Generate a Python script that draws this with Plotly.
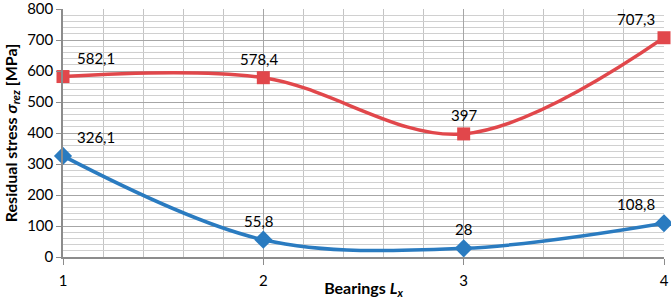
import plotly.graph_objects as go

bearings = [1, 2, 3, 4]
red_values = [582.1, 578.4, 397, 707.3]
blue_values = [326.1, 55.8, 28, 108.8]
red_labels = ["582,1", "578,4", "397", "707,3"]
blue_labels = ["326,1", "55,8", "28", "108,8"]
y_ticks = [0, 100, 200, 300, 400, 500, 600, 700, 800]

RED = "#E1474B"
BLUE = "#2A7BC0"
FONT = "Lato, Open Sans, sans-serif"

fig = go.Figure()
fig.add_trace(go.Scatter(
    x=bearings, y=red_values, mode="lines+markers",
    line=dict(color=RED, width=3.5, shape="spline", smoothing=1),
    marker=dict(symbol="square", size=13, color=RED),
    cliponaxis=False, showlegend=False, hoverinfo="skip"))
fig.add_trace(go.Scatter(
    x=bearings, y=blue_values, mode="lines+markers",
    line=dict(color=BLUE, width=3.5, shape="spline", smoothing=1),
    marker=dict(symbol="diamond", size=14, color=BLUE),
    cliponaxis=False, showlegend=False, hoverinfo="skip"))

xshifts = [33, -4, 0, -28]
for i in range(4):
    for vals, labs in ((red_values, red_labels), (blue_values, blue_labels)):
        fig.add_annotation(x=bearings[i], y=vals[i], text=labs[i], showarrow=False,
                           xshift=xshifts[i], yshift=19,
                           font=dict(family=FONT, size=15, color="#000"))

fig.update_layout(
    width=671, height=299,
    margin=dict(l=63, r=7, t=9, b=42, autoexpand=False),
    paper_bgcolor="white", plot_bgcolor="white",
    font=dict(family=FONT, size=15, color="#000"),
)
fig.update_xaxes(
    range=[1, 4], tickvals=bearings, ticktext=[str(b) for b in bearings],
    showgrid=True, gridcolor="#A6A6A6", gridwidth=1,
    minor=dict(dtick=0.2, tick0=1, showgrid=True, gridcolor="#C4C4C4", gridwidth=1),
    showline=True, linecolor="#8C8C8C", linewidth=1.5,
    ticks="outside", ticklen=6, tickcolor="#8C8C8C", ticklabelstandoff=3,
    ticklabeloverflow="allow",
    zeroline=False,
    title=dict(text="<b>Bearings <i>L</i><sub><i>x</i></sub></b>", standoff=2,
               font=dict(family=FONT, size=16)),
)
fig.update_yaxes(
    range=[0, 800], tickvals=y_ticks, ticktext=[str(v) for v in y_ticks],
    showgrid=True, gridcolor="#A6A6A6", gridwidth=1,
    minor=dict(dtick=20, tick0=0, showgrid=True, gridcolor="#D0D0D0", gridwidth=1),
    showline=True, linecolor="#8C8C8C", linewidth=1.5,
    ticks="outside", ticklen=5, tickcolor="#8C8C8C",
    ticklabeloverflow="allow",
    zeroline=False,
    title=dict(text="<b>Residual stress <i>σ</i><sub><i>rez</i></sub> [MPa]</b>", standoff=6,
               font=dict(family=FONT, size=16)),
)

fig.write_html("out.html", config={"displayModeBar": False},
               post_script="document.body.style.margin='0';document.body.style.padding='0';document.body.style.overflow='hidden';")
